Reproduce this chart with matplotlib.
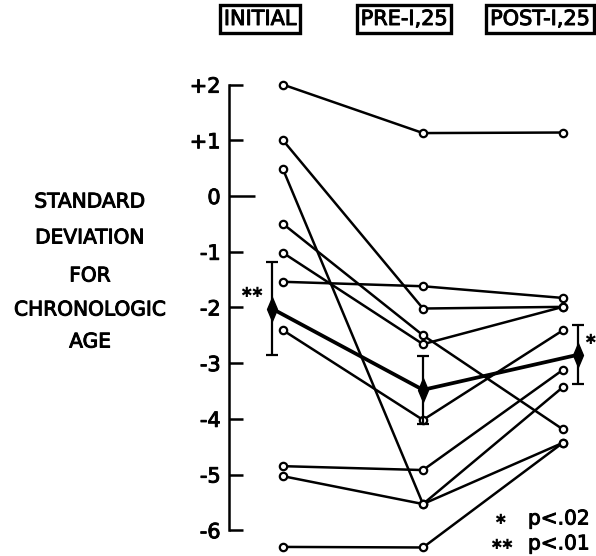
import matplotlib
matplotlib.use('Agg')
import matplotlib.pyplot as plt
from matplotlib.path import Path
import matplotlib.patheffects as pe

# valores (DE para edad cronologica)
fases = ['INITIAL', 'PRE-I,25', 'POST-I,25']
inicial = [2.0, 1.0, 0.48, -0.5, -1.02, -1.54, -2.41, -4.85, -5.03, -6.3]
pre = [1.13, -2.02, -5.53, -2.5, -2.66, -1.62, -4.02, -4.92, -5.53, -6.31]
post = [1.14, -1.99, -3.43, -4.19, -1.99, -1.83, -2.41, -3.12, -4.43, -4.43]

medias = [-2.02, -3.48, -2.85]
errores = [0.83, 0.61, 0.53]

ticks = [2, 1, 0, -1, -2, -3, -4, -5, -6]
tick_labels = ['+2', '+1', '0', '-1', '-2', '-3', '-4', '-5', '-6']

etiqueta_y = ['STANDARD', 'DEVIATION', 'FOR', 'CHRONOLOGIC', 'AGE']
leyenda = ['p<.02', 'p<.01']

# posiciones de columnas
cols = [0, 1, 2]
cols_media = [-0.08, 1.0, 2.107]

# trazo un poco mas grueso, como rotulado a mano
grueso = [pe.withStroke(linewidth=0.7, foreground='k')]

fig = plt.figure(figsize=(5.96, 5.56), dpi=100)
ax = fig.add_axes([200/596, 0, 396/596, 496/556])
ax.set_xlim(-0.593, 2.236)
ax.set_ylim(-6.463, 2.442)

for a, b, c in zip(inicial, pre, post):
    ax.plot(cols, [a, b, c], color='k', lw=1.8, marker='o', ms=5.3,
            mfc='white', mec='k', mew=1.6, clip_on=False, zorder=2)

# media +- error
diamante = Path([(0, 1), (0.42, 0), (0, -1), (-0.42, 0), (0, 1)],
                [Path.MOVETO, Path.LINETO, Path.LINETO, Path.LINETO, Path.CLOSEPOLY])
ax.plot(cols_media, medias, color='k', lw=2.7, zorder=3)
ax.errorbar(cols_media, medias, yerr=errores, fmt='none', ecolor='k',
            elinewidth=1.6, capsize=4.5, capthick=1.6, zorder=3)
ax.plot(cols_media, medias, ls='none', marker=diamante, ms=17, color='k', zorder=4)

# asteriscos de significancia
ax.text(-0.22, -1.74, '✱✱', fontsize=10, ha='center', va='center')
ax.text(2.19, -2.59, '✱', fontsize=10, ha='center', va='center')

# ejes
for s in ['top', 'right', 'bottom']:
    ax.spines[s].set_visible(False)
ax.spines['left'].set_position(('data', -0.386))
ax.spines['left'].set_bounds(-6, 2)
ax.spines['left'].set_linewidth(1.8)
ax.set_xticks([])
ax.set_yticks(ticks)
ax.set_yticklabels(tick_labels)
ax.tick_params(axis='y', direction='in', length=10, width=1.8, pad=6, labelsize=15)
for t, v in zip(ax.yaxis.get_major_ticks(), ticks):
    if v == 0:
        t.tick1line.set_markersize(19)
for lab in ax.get_yticklabels():
    lab.set_path_effects(grueso)

# etiqueta del eje y
for i, linea in enumerate(etiqueta_y):
    y = [202, 238, 276, 310, 342][i]
    fig.text(90/596, 1 - y/556, linea, ha='center', va='center', fontsize=14.5,
             path_effects=grueso)

# encabezados
for nombre, xc in zip(fases, [260, 404, 540]):
    fig.text(xc/596, 1 - 19/556, nombre, ha='center', va='center', fontsize=15,
             path_effects=grueso,
             bbox=dict(boxstyle='square,pad=0.2', fc='white', ec='k', lw=2.4))

# leyenda
fig.text(500/596, 1 - 520/556, '✱', ha='center', va='center', fontsize=10)
fig.text(502/596, 1 - 545/556, '✱✱', ha='center', va='center', fontsize=10)
fig.text(528/596, 1 - 519/556, leyenda[0], ha='left', va='center', fontsize=14.5,
         path_effects=grueso)
fig.text(528/596, 1 - 544/556, leyenda[1], ha='left', va='center', fontsize=14.5,
         path_effects=grueso)

fig.savefig('out.png', dpi=100)
